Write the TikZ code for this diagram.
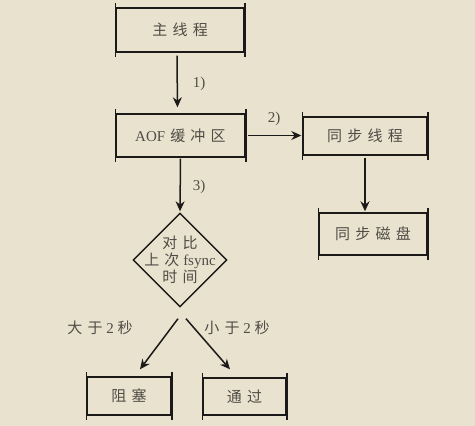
\documentclass[tikz,border=0pt]{standalone}
\usepackage{fontspec}
\setmainfont{Liberation Serif}
\newfontfamily\cjk[LetterSpace=35]{Noto Sans CJK SC}
\usetikzlibrary{shapes.geometric,arrows.meta,calc}
\definecolor{bg}{RGB}{233,226,206}
\definecolor{ink}{RGB}{28,26,24}
\definecolor{txt}{RGB}{80,76,70}
\tikzset{
  box/.style={draw=ink, line width=1.4pt, minimum width=#1, inner sep=0pt, text=txt, font=\fontsize{15}{17}\selectfont},
  arr/.style={draw=ink, line width=1.5pt, -{Stealth[length=10pt,width=9pt]}},
  lbl/.style={text=txt, font=\fontsize{15}{17}\selectfont, inner sep=0pt},
  side/.style={draw=ink, line width=1.6pt}
}
\begin{document}
\begin{tikzpicture}[x=1pt,y=-1pt]
\fill[bg] (0,0) rectangle (475,426);
\useasboundingbox (0,0) rectangle (475,426);
\node[box=128pt, minimum height=44pt] (main) at (180,30) {\cjk 主线程};
\node[box=129pt, minimum height=43pt] (aof) at (180.5,135.5) {AOF\hspace{5pt}{\cjk 缓冲区}};
\node[box=124pt, minimum height=38pt] (sync) at (365,136) {\cjk 同步线程};
\node[box=108pt, minimum height=42pt] (disk) at (373,234) {\cjk 同步磁盘};
\node[box=84pt, minimum height=38pt] (block) at (129,396) {\cjk 阻塞};
\node[box=83pt, minimum height=37pt] (pass) at (244.5,396.5) {\cjk 通过};
\foreach \n in {main,aof,sync,disk,block,pass}{
  \draw[side] ($(\n.north west)+(0,-4)$) -- ($(\n.south west)+(0,4)$);
  \draw[side] ($(\n.north east)+(0,-4)$) -- ($(\n.south east)+(0,4)$);
}
\node[draw=ink, line width=1.4pt, diamond, aspect=1, minimum width=94pt, minimum height=94pt, inner sep=0pt] (dia) at (180,260) {};
\node[lbl, align=center, font=\fontsize{15}{17}\selectfont] (dtext) at (dia.center) {{\cjk 对比}\\{\cjk 上次} fsync\\{\cjk 时间}};
\draw[arr, shorten <=3pt, shorten >=6pt] ($(main.south)+(-3,0)$) -- ($(aof.north)+(-3,0)$);
\node[lbl] (l1) at (199,84) {1)};
\draw[arr, shorten <=2pt, shorten >=1pt] (aof.east) -- (aof.east -| sync.west);
\node[lbl] (l2) at (274,119) {2)};
\draw[arr, shorten <=2pt, shorten >=1pt] (sync.south) -- (sync.south |- disk.north);
\draw[arr, shorten <=1pt, shorten >=1pt] (aof.south) -- (dia.north);
\node[lbl] (l3) at (199,187) {3)};
\draw[arr] ($(dia.south)+(-2,11)$) -- ($(block.north)+(11,-7)$);
\draw[arr] ($(dia.south)+(6,11)$) -- ($(pass.north)+(-14.5,-8)$);
\node[lbl] (ll) at (100,328) {{\cjk 大于} 2 {\cjk 秒}};
\node[lbl] (lr) at (237,328) {{\cjk 小于} 2 {\cjk 秒}};
\end{tikzpicture}
\end{document}
